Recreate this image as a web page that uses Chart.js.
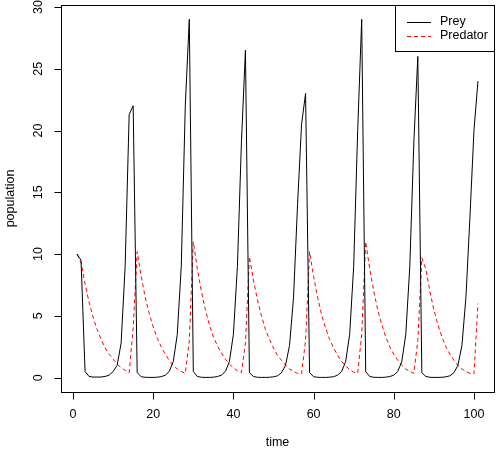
<!DOCTYPE html><html><head><script src="https://cdn.jsdelivr.net/npm/chart.js@4"></script>
<style>body{margin:0;background:#fff}#w{width:500px;height:452px}</style></head><body><div id="w"><canvas id="c"></canvas></div>
<script>
const time = Array.from({length:101},(_,i)=>i+1);
const prey = [10,9.5,0.5,0.1,0.05,0.05,0.05,0.1,0.2,0.5,1,2.8,9,21.3,22,
0.4,0.08,0.03,0.02,0.02,0.04,0.08,0.2,0.5,1.3,3.5,9,22,29,
0.5,0.1,0.03,0.02,0.02,0.04,0.09,0.2,0.5,1.3,3.5,9,19,26.5,
0.4,0.1,0.03,0.02,0.02,0.03,0.07,0.15,0.4,1,2.6,6.5,14,20.5,23,
0.4,0.08,0.03,0.02,0.02,0.04,0.08,0.2,0.5,1.3,3.5,9,20,29,
0.5,0.1,0.03,0.02,0.02,0.04,0.09,0.2,0.5,1.3,3.5,9,19,26,
0.4,0.1,0.03,0.02,0.02,0.03,0.07,0.15,0.4,1,2.6,6.5,13,20,24];
const predator = [10,9.3,7.6,6.1,4.9,3.9,3.1,2.4,1.9,1.5,1.1,0.8,0.6,0.4,4,
10.2,8.2,6.5,5.2,4.1,3.2,2.5,1.9,1.4,1.0,0.7,0.5,0.35,3,11,
8.8,7,5.5,4.3,3.3,2.6,2,1.5,1.1,0.8,0.55,0.4,2.8,9.8,
7.9,6.3,5,3.9,3.1,2.4,1.8,1.4,1.0,0.7,0.5,0.35,0.3,3,10.2,
8.2,6.5,5.1,4,3.1,2.4,1.8,1.3,0.95,0.65,0.45,0.35,3.5,11,
8.8,7,5.5,4.3,3.3,2.5,1.9,1.4,1.0,0.7,0.5,0.35,3,9.7,
8.8,7,5.5,4.3,3.3,2.5,1.9,1.4,1.0,0.7,0.5,0.35,0.3,6];
const xTicks=[0,20,40,60,80,100], yTicks=[0,5,10,15,20,25,30];
const F='12.5px "Liberation Sans", Arial, sans-serif';
const rAxes={id:'rAxes',afterDraw(ch){
 const c=ch.ctx,a=ch.chartArea,x=ch.scales.x,y=ch.scales.y;
 c.save();c.strokeStyle='#000';c.lineWidth=1;c.fillStyle='#000';c.font=F;
 c.strokeRect(a.left+.5,a.top+.5,a.width,a.height);
 const by=a.bottom+.5, lx=a.left+.5;
 c.beginPath();
 xTicks.forEach(v=>{const p=Math.round(x.getPixelForValue(v))+.5;c.moveTo(p,by);c.lineTo(p,by+7);});
 yTicks.forEach(v=>{const p=Math.round(y.getPixelForValue(v))+.5;c.moveTo(lx,p);c.lineTo(lx-7,p);});
 c.stroke();
 c.textAlign='center';c.textBaseline='middle';
 xTicks.forEach(v=>c.fillText(String(v),x.getPixelForValue(v),415));
 c.fillText('time',(a.left+a.right)/2,443);
 yTicks.forEach(v=>{c.save();c.translate(39,y.getPixelForValue(v));c.rotate(-Math.PI/2);c.fillText(String(v),0,0);c.restore();});
 c.save();c.translate(11,(a.top+a.bottom)/2);c.rotate(-Math.PI/2);c.fillText('population',0,0);c.restore();
 // legend
 const L=395.5,T=a.top+.5,W=a.right-395,H=46;
 c.fillStyle='#fff';c.fillRect(L,T,W,H);c.strokeRect(L,T,W,H);
 c.fillStyle='#000';c.textAlign='left';
 c.beginPath();c.moveTo(407,22.5);c.lineTo(431,22.5);c.stroke();c.fillText('Prey',440,22);
 c.strokeStyle='#ff0000';c.setLineDash([4,3]);c.beginPath();c.moveTo(407,36.5);c.lineTo(431,36.5);c.stroke();
 c.fillText('Predator',440,36);
 c.restore();}};
new Chart(document.getElementById('c'),{type:'line',
 data:{labels:time,datasets:[
  {label:'Prey',data:prey,borderColor:'#000',borderWidth:1,pointRadius:0,tension:0},
  {label:'Predator',data:predator,borderColor:'#ff0000',borderWidth:1,borderDash:[4,3],pointRadius:0,tension:0}]},
 options:{responsive:true,maintainAspectRatio:false,animation:false,devicePixelRatio:1,
  layout:{padding:{left:61,right:6,top:5,bottom:60}},
  plugins:{legend:{display:false},tooltip:{enabled:false}},
  scales:{x:{type:'linear',display:false,min:-3,max:105},y:{display:false,min:-1.16,max:30.16}}},
 plugins:[rAxes]});
</script></body></html>
